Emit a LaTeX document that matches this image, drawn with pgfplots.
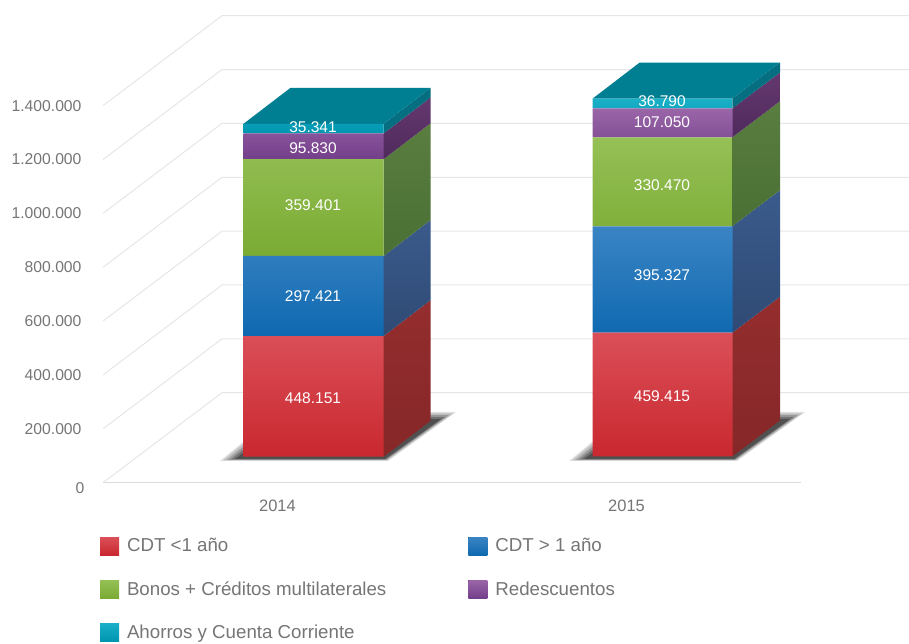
\documentclass[border=0pt]{standalone}
\usepackage{fontspec}
\setmainfont{Liberation Sans}
\usepackage{pgfplots}
\pgfplotsset{compat=1.18}
\definecolor{tickgray}{HTML}{757575}
\definecolor{gridc}{HTML}{E6E6E6}
\definecolor{rT}{HTML}{DB4F58}\definecolor{rB}{HTML}{C9282F}
\definecolor{bT}{HTML}{3A84C4}\definecolor{bB}{HTML}{0F69B0}
\definecolor{gT}{HTML}{95C056}\definecolor{gB}{HTML}{7AAB33}
\definecolor{pT}{HTML}{9A66A8}\definecolor{pB}{HTML}{743F8A}
\definecolor{cT}{HTML}{1AB0C8}\definecolor{cB}{HTML}{0096B0}
\definecolor{rS1}{HTML}{942D2E}\definecolor{rS2}{HTML}{862728}
\definecolor{bS1}{HTML}{3A5B8C}\definecolor{bS2}{HTML}{2F4A74}
\definecolor{gS1}{HTML}{5A7D40}\definecolor{gS2}{HTML}{4A7035}
\definecolor{pS1}{HTML}{64386F}\definecolor{pS2}{HTML}{4F2A5C}
\definecolor{cS1}{HTML}{056E80}\definecolor{cS2}{HTML}{056E80}
\definecolor{topc}{HTML}{007F92}
\tikzset{lab/.style={text=white,font=\fontsize{15.5}{18}\selectfont,inner sep=0pt,anchor=center}}
\pgfplotsset{base/.style={
  scale only axis, width=806pt, height=482.7pt,
  at={(103pt,161.3pt)}, anchor=south west,
  xmin=103, xmax=909, ymin=0, ymax=1792436,
  enlargelimits=false}}
\begin{document}
\begin{tikzpicture}[x=1pt,y=1pt]
\useasboundingbox (0,0) rectangle (909,644);
\begin{axis}[base,
  axis line style={draw=none}, tick style={draw=none},
  scaled y ticks=false,
  xtick={277.5,626.5}, xticklabels={2014,2015},
  ytick={0,200000,400000,600000,800000,1000000,1200000,1400000},
  yticklabels={\raisebox{-10.7pt}[0pt][0pt]{0\kern-3pt},200.000,400.000,600.000,800.000,1.000.000,1.200.000,1.400.000},
  yticklabel style={font=\fontsize{15.7}{18}\selectfont, text=tickgray, anchor=east},
  xticklabel style={font=\fontsize{16.5}{18}\selectfont, text=tickgray},
  every y tick label/.append style={xshift=-18pt},
  every x tick label/.append style={yshift=-14pt}]
% walls
\addplot[gridc,line width=1pt] coordinates {(103,0) (222,334200) (909,334200)};
\addplot[gridc,line width=1pt] coordinates {(103,200000) (222,534200) (909,534200)};
\addplot[gridc,line width=1pt] coordinates {(103,400000) (222,734200) (909,734200)};
\addplot[gridc,line width=1pt] coordinates {(103,600000) (222,934200) (909,934200)};
\addplot[gridc,line width=1pt] coordinates {(103,800000) (222,1134200) (909,1134200)};
\addplot[gridc,line width=1pt] coordinates {(103,1000000) (222,1334200) (909,1334200)};
\addplot[gridc,line width=1pt] coordinates {(103,1200000) (222,1534200) (909,1534200)};
\addplot[gridc,line width=1pt] coordinates {(103,1400000) (222,1734200) (909,1734200)};
\addplot[gridc!95!black,line width=1.6pt] coordinates {(103,0) (801,0)};
% shadows 2014
\addplot[fill=black,draw=none,opacity=.12] coordinates {(220,80580) (243,151131) (431,262531) (456,262531) (388,80580)} --cycle;
\addplot[fill=black,draw=none,opacity=.15] coordinates {(223,82435) (243,143705) (431,256964) (453,256964) (387,82435)} --cycle;
\addplot[fill=black,draw=none,opacity=.2] coordinates {(227,84292) (243,132565) (431,251390) (449,251390) (386,84292)} --cycle;
\addplot[fill=black,draw=none,opacity=.25] coordinates {(231,86149) (243,121425) (431,243964) (445,243964) (385.5,86149)} --cycle;
\addplot[fill=black,draw=none,opacity=.3] coordinates {(235,88005) (243,110285) (431,236537) (441,236537) (385,88005)} --cycle;
% shadows 2015
\addplot[fill=black,draw=none,opacity=.12] coordinates {(569,80580) (592,151131) (780,262531) (805,262531) (737,80580)} --cycle;
\addplot[fill=black,draw=none,opacity=.15] coordinates {(572,82435) (592,143705) (780,256964) (802,256964) (736,82435)} --cycle;
\addplot[fill=black,draw=none,opacity=.2] coordinates {(576,84292) (592,132565) (780,251390) (798,251390) (735,84292)} --cycle;
\addplot[fill=black,draw=none,opacity=.25] coordinates {(580,86149) (592,121425) (780,243964) (794,243964) (734.5,86149)} --cycle;
\addplot[fill=black,draw=none,opacity=.3] coordinates {(584,88005) (592,110285) (780,236537) (790,236537) (734,88005)} --cycle;
% side faces 2014
\addplot[draw=none,top color=rS1,bottom color=rS2] coordinates {(383.7,96500) (430.7,230200) (430.7,678351) (383.7,544651)} --cycle;
\addplot[draw=none,top color=bS1,bottom color=bS2] coordinates {(383.7,544651) (430.7,678351) (430.7,975772) (383.7,842072)} --cycle;
\addplot[draw=none,top color=gS1,bottom color=gS2] coordinates {(383.7,842072) (430.7,975772) (430.7,1335173) (383.7,1201473)} --cycle;
\addplot[draw=none,top color=pS1,bottom color=pS2] coordinates {(383.7,1201473) (430.7,1335173) (430.7,1431003) (383.7,1297303)} --cycle;
\addplot[draw=none,fill=cS1] coordinates {(383.7,1297303) (430.7,1431003) (430.7,1466344) (383.7,1332644)} --cycle;
\addplot[draw=none,fill=topc] coordinates {(243.5,1332644) (290.5,1466344) (430.7,1466344) (383.7,1332644)} --cycle;
% side faces 2015
\addplot[draw=none,top color=rS1,bottom color=rS2] coordinates {(732.3,97500) (780,231200) (780,690615) (732.3,556915)} --cycle;
\addplot[draw=none,top color=bS1,bottom color=bS2] coordinates {(732.3,556915) (780,690615) (780,1085942) (732.3,952242)} --cycle;
\addplot[draw=none,top color=gS1,bottom color=gS2] coordinates {(732.3,952242) (780,1085942) (780,1416412) (732.3,1282712)} --cycle;
\addplot[draw=none,top color=pS1,bottom color=pS2] coordinates {(732.3,1282712) (780,1416412) (780,1523462) (732.3,1389762)} --cycle;
\addplot[draw=none,fill=cS1] coordinates {(732.3,1389762) (780,1523462) (780,1560252) (732.3,1426552)} --cycle;
\addplot[draw=none,fill=topc] coordinates {(592.7,1426552) (639.7,1560252) (780,1560252) (732.3,1426552)} --cycle;
\end{axis}
\begin{axis}[base, hide axis, ybar stacked, bar width=140pt,
  legend columns=2,
  legend cell align=left,
  legend image code/.code={\fill[#1] (0pt,-9pt) rectangle (19pt,9pt);},
  legend style={draw=none, fill=none, inner sep=0pt, outer sep=0pt,
    at={(axis description cs:-0.0037,-0.1125)}, anchor=north west,
    font=\fontsize{18.7}{22}\selectfont, text=tickgray,
    row sep=25pt,
    /tikz/every even column/.append style={column sep=82pt},
    nodes={inner sep=0pt, outer sep=0pt}}]
\addplot[draw=none,fill=none,forget plot] coordinates {(313.6,96500) (662.5,97500)};
\addplot[draw=none,top color=rT,bottom color=rB] coordinates {(313.6,448151) (662.5,459415)};
\addlegendentry{\hspace{8pt}CDT <1 año}
\addplot[draw=none,top color=bT,bottom color=bB] coordinates {(313.6,297421) (662.5,395327)};
\addlegendentry{\hspace{8pt}CDT > 1 año}
\addplot[draw=none,top color=gT,bottom color=gB] coordinates {(313.6,359401) (662.5,330470)};
\addlegendentry{\hspace{8pt}Bonos + Créditos multilaterales}
\addplot[draw=none,top color=pT,bottom color=pB] coordinates {(313.6,95830) (662.5,107050)};
\addlegendentry{\hspace{8pt}Redescuentos}
\addplot[draw=none,top color=cT,bottom color=cB] coordinates {(313.6,35341) (662.5,36790)};
\addlegendentry{\hspace{8pt}Ahorros y Cuenta Corriente}
\end{axis}
\begin{axis}[base, hide axis]
\node[lab] at (axis cs:313,1320826) {35.341};
\node[lab] at (axis cs:313,1242842) {95.830};
\node[lab] at (axis cs:313,1031183) {359.401};
\node[lab] at (axis cs:313,693273) {297.421};
\node[lab] at (axis cs:313,314517) {448.151};
\node[lab] at (axis cs:662,1417367) {36.790};
\node[lab] at (axis cs:662,1339387) {107.050};
\node[lab] at (axis cs:662,1105450) {330.470};
\node[lab] at (axis cs:662,771252) {395.327};
\node[lab] at (axis cs:662,321943) {459.415};
\end{axis}
\end{tikzpicture}
\end{document}
